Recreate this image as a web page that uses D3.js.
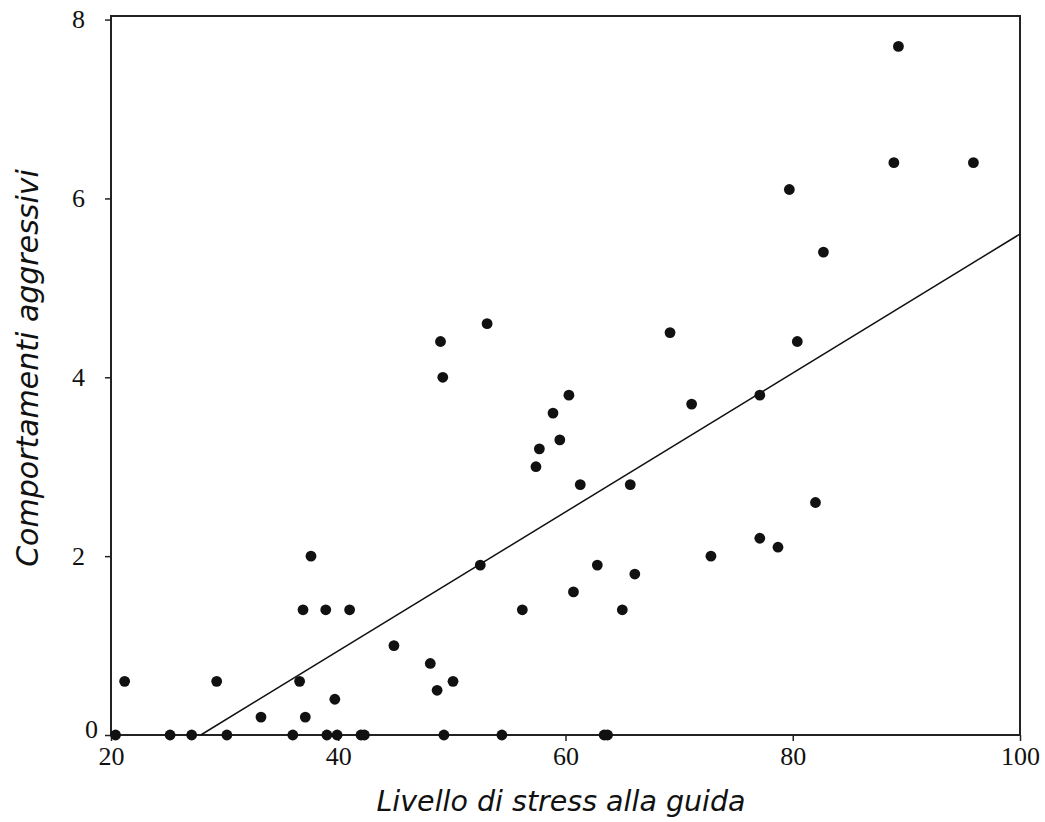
<!DOCTYPE html>
<html>
<head>
<meta charset="utf-8">
<script src="https://cdn.jsdelivr.net/npm/d3@7"></script>
<style>
  body { margin: 0; background: #fff; }
  svg { display: block; }
</style>
</head>
<body>
<script>
// stress level (x) and aggressive behaviours (y)
const stressValues = [20.4, 21.2, 25.2, 27.1, 29.3, 30.2, 33.2, 36.0, 36.6, 36.9, 37.1, 37.6, 38.9, 39.0, 39.7, 39.9,
  41.0, 42.0, 42.3, 44.9, 48.1, 48.7, 49.0, 49.2, 49.3, 50.1, 52.5, 53.1, 54.4, 56.2, 57.4, 57.7, 58.9, 59.5,
  60.3, 60.7, 61.3, 62.8, 63.4, 63.7, 65.0, 65.7, 66.1, 69.2, 71.1, 72.8, 77.1, 77.1, 78.7, 79.7, 80.4, 82.0,
  82.7, 88.9, 89.3, 95.9];
const aggressionValues = [0, 0.6, 0, 0, 0.6, 0, 0.2, 0, 0.6, 1.4, 0.2, 2.0, 1.4, 0, 0.4, 0,
  1.4, 0, 0, 1.0, 0.8, 0.5, 4.4, 4.0, 0, 0.6, 1.9, 4.6, 0, 1.4, 3.0, 3.2, 3.6, 3.3,
  3.8, 1.6, 2.8, 1.9, 0, 0, 1.4, 2.8, 1.8, 4.5, 3.7, 2.0, 2.2, 3.8, 2.1, 6.1, 4.4, 2.6,
  5.4, 6.4, 7.7, 6.4];

const xTicks = [20, 40, 60, 80, 100];
const yTicks = [0, 2, 4, 6, 8];

// fitted line shown in the chart
const fitIntercept = -2.168;
const fitSlope = 0.0777;

const width = 1045, height = 822;
const margin = {left: 111, right: 25, top: 16, bottom: 87};

const svg = d3.select("body").append("svg")
    .attr("width", width)
    .attr("height", height);

const x = d3.scaleLinear().domain([20, 100]).range([margin.left, width - margin.right]);
const y = d3.scaleLinear().domain([0, 8.04]).range([height - margin.bottom, margin.top]);

const points = stressValues.map((v, i) => ({x: v, y: aggressionValues[i]}));

// frame
svg.append("rect")
    .attr("x", x(20))
    .attr("y", y(8.04))
    .attr("width", x(100) - x(20))
    .attr("height", y(0) - y(8.04))
    .attr("fill", "none")
    .attr("stroke", "#222")
    .attr("stroke-width", 2);

// axes
const xAxis = svg.append("g")
    .attr("transform", `translate(0,${y(0)})`)
    .call(d3.axisBottom(x).tickValues(xTicks).tickSize(6).tickPadding(6));

const yAxis = svg.append("g")
    .attr("transform", `translate(${x(20)},0)`)
    .call(d3.axisLeft(y).tickValues(yTicks).tickSize(6).tickPadding(20));

[xAxis, yAxis].forEach(g => {
    g.select(".domain").remove();
    g.selectAll("line").attr("stroke", "#222").attr("stroke-width", 1.5);
    g.selectAll("text")
        .attr("fill", "#111")
        .style("font-family", "'Liberation Serif', 'Times New Roman', serif")
        .style("font-size", "26px");
});
yAxis.selectAll("text").attr("dy", "0.32em");
// the zero label sits closer to the axis, a bit above its tick
yAxis.selectAll(".tick text")
    .filter(d => d === 0)
    .attr("dx", 13)
    .attr("y", -6);

// regression line, clipped where it crosses zero
const xStart = -fitIntercept / fitSlope;
svg.append("line")
    .attr("x1", x(xStart))
    .attr("y1", y(fitIntercept + fitSlope * xStart))
    .attr("x2", x(100))
    .attr("y2", y(fitIntercept + fitSlope * 100))
    .attr("stroke", "#111")
    .attr("stroke-width", 1.5);

// points
svg.append("g").selectAll("circle")
    .data(points)
    .enter()
    .append("circle")
    .attr("cx", d => x(d.x))
    .attr("cy", d => y(d.y))
    .attr("r", 5.4)
    .attr("fill", "#111");

// axis titles
svg.append("text")
    .attr("x", 561)
    .attr("y", 811)
    .attr("text-anchor", "middle")
    .style("font-family", "'DejaVu Sans', Verdana, sans-serif")
    .style("font-style", "italic")
    .style("font-size", "28.5px")
    .attr("fill", "#111")
    .text("Livello di stress alla guida");

svg.append("text")
    .attr("transform", `translate(38,368) rotate(-90)`)
    .attr("text-anchor", "middle")
    .style("font-family", "'DejaVu Sans', Verdana, sans-serif")
    .style("font-style", "italic")
    .style("font-size", "30px")
    .attr("fill", "#111")
    .text("Comportamenti aggressivi");
</script>
</body>
</html>
